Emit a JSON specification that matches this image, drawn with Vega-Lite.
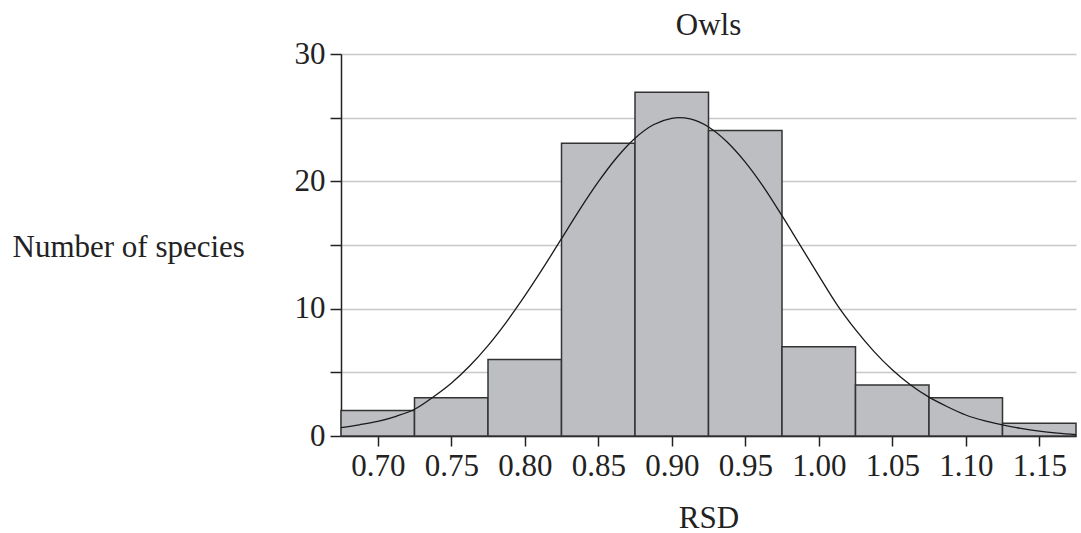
{
  "$schema": "https://vega.github.io/schema/vega-lite/v6.json",
  "width": 735,
  "height": 382,
  "autosize": {"type": "none"},
  "padding": {"left": 341, "top": 54, "right": 5, "bottom": 97},
  "background": "white",
  "config": {
    "view": {"stroke": null},
    "font": "Liberation Serif",
    "axis": {"labelFont": "Liberation Serif", "titleFont": "Liberation Serif", "labelColor": "#222", "titleColor": "#222", "titleFontWeight": "normal", "domainColor": "#222", "tickColor": "#222"}
  },
  "title": {"text": "Owls", "font": "Liberation Serif", "fontSize": 31, "fontWeight": "normal", "color": "#222", "anchor": "middle", "frame": "group", "baseline": "alphabetic", "offset": 0, "dy": 28},
  "datasets": {
    "bins": [
      {"bin_start": 0.675, "bin_end": 0.725, "count": 2},
      {"bin_start": 0.725, "bin_end": 0.775, "count": 3},
      {"bin_start": 0.775, "bin_end": 0.825, "count": 6},
      {"bin_start": 0.825, "bin_end": 0.875, "count": 23},
      {"bin_start": 0.875, "bin_end": 0.925, "count": 27},
      {"bin_start": 0.925, "bin_end": 0.975, "count": 24},
      {"bin_start": 0.975, "bin_end": 1.025, "count": 7},
      {"bin_start": 1.025, "bin_end": 1.075, "count": 4},
      {"bin_start": 1.075, "bin_end": 1.125, "count": 3},
      {"bin_start": 1.125, "bin_end": 1.175, "count": 1}
    ],
    "curve": [
      {"rsd": 0.675, "fit": 0.65},
      {"rsd": 0.6875, "fit": 0.88},
      {"rsd": 0.7, "fit": 1.15},
      {"rsd": 0.7125, "fit": 1.55},
      {"rsd": 0.725, "fit": 2.1},
      {"rsd": 0.7375, "fit": 3.05},
      {"rsd": 0.75, "fit": 4.15},
      {"rsd": 0.7625, "fit": 5.5},
      {"rsd": 0.775, "fit": 7.1},
      {"rsd": 0.7875, "fit": 8.95},
      {"rsd": 0.8, "fit": 11.0},
      {"rsd": 0.8125, "fit": 13.2},
      {"rsd": 0.825, "fit": 15.5},
      {"rsd": 0.8375, "fit": 17.8},
      {"rsd": 0.85, "fit": 19.95},
      {"rsd": 0.8625, "fit": 21.85},
      {"rsd": 0.875, "fit": 23.38},
      {"rsd": 0.8875, "fit": 24.44},
      {"rsd": 0.9, "fit": 24.95},
      {"rsd": 0.905, "fit": 25.0},
      {"rsd": 0.9125, "fit": 24.9},
      {"rsd": 0.925, "fit": 24.27},
      {"rsd": 0.9375, "fit": 23.11},
      {"rsd": 0.95, "fit": 21.51},
      {"rsd": 0.9625, "fit": 19.55},
      {"rsd": 0.975, "fit": 17.3},
      {"rsd": 0.9875, "fit": 14.95},
      {"rsd": 1.0, "fit": 12.6},
      {"rsd": 1.0125, "fit": 10.3},
      {"rsd": 1.025, "fit": 8.35},
      {"rsd": 1.0375, "fit": 6.65},
      {"rsd": 1.05, "fit": 5.2},
      {"rsd": 1.0625, "fit": 4.0},
      {"rsd": 1.075, "fit": 3.05},
      {"rsd": 1.0875, "fit": 2.3},
      {"rsd": 1.1, "fit": 1.65},
      {"rsd": 1.1125, "fit": 1.2},
      {"rsd": 1.125, "fit": 0.88},
      {"rsd": 1.1375, "fit": 0.6},
      {"rsd": 1.15, "fit": 0.38},
      {"rsd": 1.1625, "fit": 0.22},
      {"rsd": 1.175, "fit": 0.1}
    ]
  },
  "layer": [
    {
      "data": {"name": "bins"},
      "mark": {"type": "rect", "fill": "#bdbec2", "stroke": "#333333", "strokeWidth": 1.5},
      "encoding": {
        "x": {
          "field": "bin_start", "type": "quantitative",
          "scale": {"domain": [0.675, 1.175], "nice": false, "zero": false},
          "axis": {
            "values": [0.7, 0.75, 0.8, 0.85, 0.9, 0.95, 1.0, 1.05, 1.1, 1.15],
            "format": ".2f", "grid": false, "labelFontSize": 31, "labelPadding": 5,
            "tickSize": 10, "tickWidth": 1.5, "domainWidth": 1.5,
            "labelBaseline": "top", "labelFlush": false,
            "title": "RSD", "titleFontSize": 31, "titleBaseline": "alphabetic", "titleY": 91
          }
        },
        "x2": {"field": "bin_end"},
        "y": {
          "field": "count", "type": "quantitative",
          "scale": {"domain": [0, 30], "nice": false},
          "axis": {
            "values": [0, 5, 10, 15, 20, 25, 30],
            "labelExpr": "datum.value % 10 == 0 ? datum.label : ''",
            "grid": true, "gridColor": "#c8c8c8", "gridWidth": 1.5,
            "labelFontSize": 31, "labelPadding": 5, "tickSize": 11, "tickWidth": 1.5, "domainWidth": 1.5,
            "title": "Number of species", "titleFontSize": 31, "titleAngle": 0,
            "titleAlign": "left", "titleBaseline": "middle", "titleX": -329, "titleY": 193
          }
        },
        "y2": {"datum": 0}
      }
    },
    {
      "data": {"name": "curve"},
      "mark": {"type": "line", "color": "#1a1a1a", "strokeWidth": 1.3, "interpolate": "monotone"},
      "encoding": {
        "x": {"field": "rsd", "type": "quantitative"},
        "y": {"field": "fit", "type": "quantitative"}
      }
    }
  ]
}
